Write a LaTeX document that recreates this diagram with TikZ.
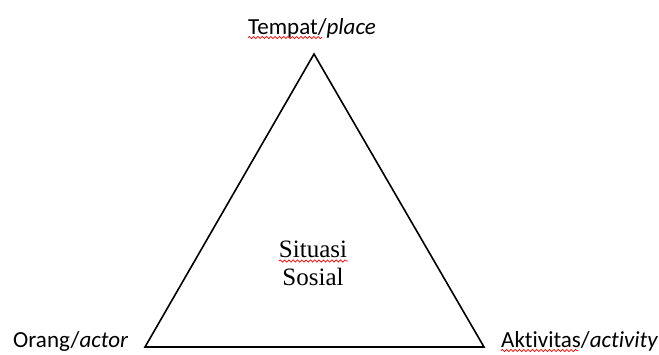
\documentclass[tikz,border=0pt]{standalone}
\usepackage{fontspec}
\setmainfont{Liberation Serif}
\newfontfamily\calibrifont[Ligatures=NoCommon]{Carlito}
\usetikzlibrary{decorations.pathmorphing}
\tikzset{
  lbl/.style={inner sep=0pt, font=\calibrifont\fontsize{23}{27}\selectfont},
  ctr/.style={inner sep=0pt, font=\fontsize{25}{28}\selectfont},
  tri/.style={line width=1.6pt, line join=miter},
  spell/.style={red, line width=0.7pt, decorate, decoration={snake, amplitude=1.1pt, segment length=4.3pt}}
}
\begin{document}
\begin{tikzpicture}[x=1pt,y=-1pt]
\useasboundingbox (0,0) rectangle (659,354);
\coordinate (top) at (314,54);
\coordinate (bl) at (145,347);
\coordinate (br) at (484,347);
\draw[tri] (top) -- (bl) -- (br) -- cycle;
\node[lbl, anchor=base west] (tempat) at (248,34.5) {Tempat/\textit{place}};
\node[lbl, anchor=base west] (orang) at (13,347.5) {Orang/\textit{actor}};
\node[lbl, anchor=base west] (aktiv) at (501,347.5) {Aktivitas/\textit{activity}};
\node[ctr, anchor=base] (sit) at (313,257) {Situasi};
\node[ctr, anchor=base] (sos) at (313,285) {Sosial};
\coordinate (w1a) at (248,37.5); \coordinate (w1b) at (322,37.5);
\coordinate (w2a) at (501,350.5); \coordinate (w2b) at (578,350.5);
\coordinate (w3a) at (279,261); \coordinate (w3b) at (348,261);
\draw[spell] (w1a) -- (w1b);
\draw[spell] (w2a) -- (w2b);
\draw[spell] (w3a) -- (w3b);
\end{tikzpicture}
\end{document}
